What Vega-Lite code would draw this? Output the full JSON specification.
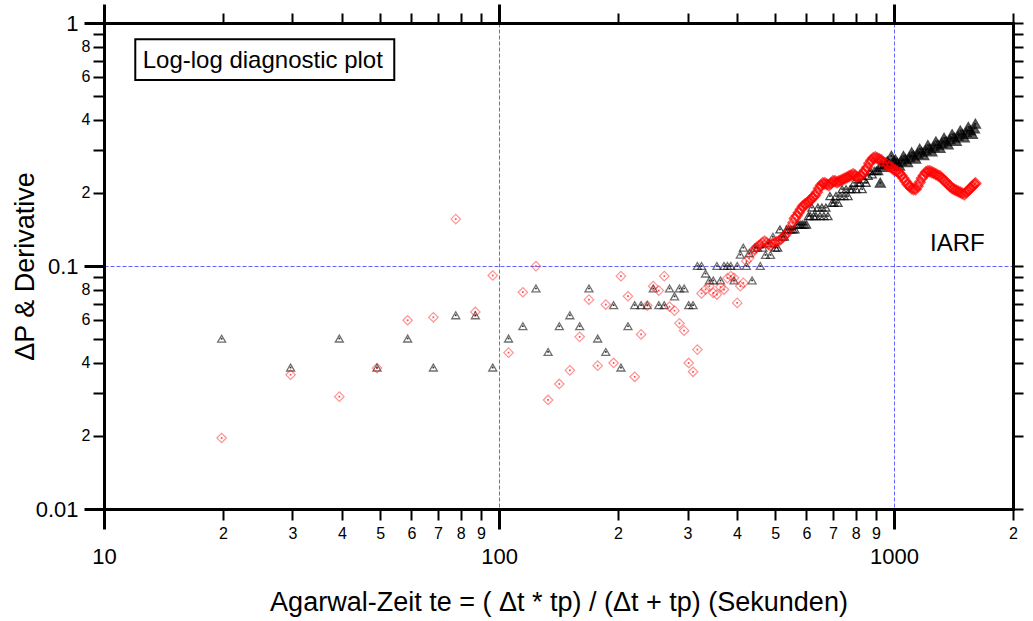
{
"$schema":"https://vega.github.io/schema/vega-lite/v6.json",
"width":909,"height":486,
"autosize":{"type":"none"},
"padding":{"left":104,"top":23,"right":20,"bottom":112},
"background":"white",
"config":{"view":{"stroke":null},"font":"Liberation Sans",
"axis":{"labelFont":"Liberation Sans","titleFont":"Liberation Sans","labelColor":"#000","titleColor":"#000","tickColor":"#000","domainColor":"#000","labelFlush":false,"labelOverlap":false,"labelBound":false,"grid":false,"titleFontWeight":"normal"}},
"datasets":{
"dp":[{"t":19.85,"v":0.0502},{"t":29.67,"v":0.0382},{"t":39.42,"v":0.0503},{"t":49.1,"v":0.0382},{"t":58.7,"v":0.0503},{"t":68.2,"v":0.0382},{"t":77.7,"v":0.0627},{"t":87.1,"v":0.0627},{"t":96.4,"v":0.0382},{"t":105.7,"v":0.0503},{"t":114.9,"v":0.0565},{"t":124.0,"v":0.0808},{"t":133.1,"v":0.0443},{"t":142.1,"v":0.0565},{"t":151.1,"v":0.0627},{"t":160.0,"v":0.0565},{"t":168.9,"v":0.0808},{"t":177.7,"v":0.0503},{"t":186.3,"v":0.0443},{"t":195.0,"v":0.069},{"t":203.5,"v":0.0382},{"t":212.0,"v":0.0565},{"t":220.5,"v":0.069},{"t":228.9,"v":0.069},{"t":237.3,"v":0.069},{"t":245.7,"v":0.0808},{"t":253.8,"v":0.069},{"t":262.0,"v":0.069},{"t":270.1,"v":0.0808},{"t":278.1,"v":0.075},{"t":286.2,"v":0.0808},{"t":294.1,"v":0.0808},{"t":302.1,"v":0.069},{"t":309.9,"v":0.069},{"t":317.7,"v":0.1},{"t":325.5,"v":0.1},{"t":333.2,"v":0.0931},{"t":340.9,"v":0.0872},{"t":348.5,"v":0.0872},{"t":356.0,"v":0.1},{"t":363.6,"v":0.0872},{"t":371.1,"v":0.1},{"t":378.6,"v":0.1},{"t":386.0,"v":0.1},{"t":393.4,"v":0.0872},{"t":400.8,"v":0.1},{"t":408.1,"v":0.1113},{"t":415.4,"v":0.119},{"t":422.7,"v":0.1},{"t":429.9,"v":0.113},{"t":437.1,"v":0.0872},{"t":444.3,"v":0.119},{"t":451.4,"v":0.119},{"t":458.5,"v":0.1},{"t":465.6,"v":0.119},{"t":472.6,"v":0.111},{"t":479.6,"v":0.124},{"t":486.6,"v":0.111},{"t":493.5,"v":0.132},{"t":500.4,"v":0.119},{"t":507.3,"v":0.119},{"t":514.1,"v":0.1414},{"t":520.9,"v":0.132},{"t":527.7,"v":0.132},{"t":534.5,"v":0.1414},{"t":541.2,"v":0.1414},{"t":547.9,"v":0.1414},{"t":554.6,"v":0.1414},{"t":561.2,"v":0.1414},{"t":567.8,"v":0.148},{"t":574.4,"v":0.148},{"t":581.0,"v":0.148},{"t":587.5,"v":0.148},{"t":594.0,"v":0.148},{"t":600.4,"v":0.148},{"t":606.8,"v":0.1605},{"t":613.2,"v":0.1605},{"t":619.6,"v":0.174},{"t":625.9,"v":0.1605},{"t":634.0,"v":0.1605},{"t":641.4,"v":0.174},{"t":649.0,"v":0.1605},{"t":656.6,"v":0.174},{"t":664.3,"v":0.1605},{"t":672.1,"v":0.174},{"t":680.2,"v":0.1605},{"t":688.2,"v":0.194},{"t":696.4,"v":0.182},{"t":704.5,"v":0.182},{"t":712.8,"v":0.194},{"t":721.3,"v":0.182},{"t":729.8,"v":0.194},{"t":738.4,"v":0.207},{"t":747.1,"v":0.194},{"t":755.9,"v":0.207},{"t":764.8,"v":0.194},{"t":773.8,"v":0.207},{"t":783.0,"v":0.207},{"t":792.2,"v":0.22},{"t":801.6,"v":0.207},{"t":811.0,"v":0.22},{"t":820.6,"v":0.22},{"t":830.3,"v":0.207},{"t":840.1,"v":0.227},{"t":850.0,"v":0.22},{"t":860.1,"v":0.235},{"t":870.3,"v":0.246},{"t":880.5,"v":0.238},{"t":890.9,"v":0.246},{"t":901.4,"v":0.246},{"t":912.0,"v":0.246},{"t":922.8,"v":0.22},{"t":928.2,"v":0.262},{"t":939.2,"v":0.255},{"t":950.3,"v":0.262},{"t":961.5,"v":0.27},{"t":972.8,"v":0.262},{"t":984.3,"v":0.284},{"t":995.9,"v":0.27},{"t":1007.7,"v":0.274},{"t":1019.7,"v":0.2661},{"t":1031.8,"v":0.2583},{"t":1044.0,"v":0.2706},{"t":1056.4,"v":0.2836},{"t":1069.0,"v":0.2753},{"t":1081.7,"v":0.2671},{"t":1094.6,"v":0.28},{"t":1107.5,"v":0.2936},{"t":1120.6,"v":0.2848},{"t":1134.0,"v":0.2763},{"t":1147.5,"v":0.2897},{"t":1161.1,"v":0.3037},{"t":1174.9,"v":0.2947},{"t":1188.9,"v":0.2856},{"t":1203.0,"v":0.2996},{"t":1217.3,"v":0.3144},{"t":1231.7,"v":0.3047},{"t":1246.4,"v":0.2953},{"t":1261.2,"v":0.3099},{"t":1276.2,"v":0.3254},{"t":1291.3,"v":0.3152},{"t":1306.7,"v":0.3053},{"t":1322.2,"v":0.3206},{"t":1337.9,"v":0.3368},{"t":1353.8,"v":0.3261},{"t":1369.9,"v":0.3157},{"t":1386.1,"v":0.3317},{"t":1402.6,"v":0.3485},{"t":1419.3,"v":0.3374},{"t":1436.1,"v":0.3264},{"t":1453.2,"v":0.3431},{"t":1470.5,"v":0.3607},{"t":1487.9,"v":0.3489},{"t":1505.6,"v":0.3375},{"t":1523.5,"v":0.3549},{"t":1541.6,"v":0.3734},{"t":1559.9,"v":0.361},{"t":1578.4,"v":0.3489},{"t":1597.2,"v":0.3673},{"t":1606.7,"v":0.3848}],
"der":[{"t":19.85,"v":0.0196},{"t":29.67,"v":0.0357},{"t":39.42,"v":0.029},{"t":49.1,"v":0.038},{"t":58.7,"v":0.0598},{"t":68.2,"v":0.0615},{"t":77.7,"v":0.156},{"t":87.1,"v":0.0647},{"t":96.4,"v":0.0914},{"t":105.7,"v":0.044},{"t":114.9,"v":0.078},{"t":124.0,"v":0.0999},{"t":133.1,"v":0.0281},{"t":142.1,"v":0.0327},{"t":151.1,"v":0.0372},{"t":160.0,"v":0.0511},{"t":168.9,"v":0.0727},{"t":177.7,"v":0.0389},{"t":186.3,"v":0.0694},{"t":195.0,"v":0.0399},{"t":203.5,"v":0.0908},{"t":212.0,"v":0.0751},{"t":220.5,"v":0.035},{"t":228.9,"v":0.0523},{"t":237.3,"v":0.0687},{"t":245.7,"v":0.0826},{"t":253.8,"v":0.0792},{"t":262.0,"v":0.0908},{"t":270.1,"v":0.068},{"t":278.1,"v":0.0655},{"t":286.2,"v":0.0581},{"t":294.1,"v":0.0542},{"t":302.1,"v":0.0399},{"t":309.9,"v":0.0367},{"t":317.7,"v":0.0453},{"t":325.5,"v":0.0771},{"t":333.2,"v":0.0801},{"t":340.9,"v":0.0826},{"t":348.5,"v":0.0775},{"t":356.0,"v":0.0763},{"t":363.6,"v":0.082},{"t":371.1,"v":0.08},{"t":378.6,"v":0.0892},{"t":386.0,"v":0.0909},{"t":393.4,"v":0.0894},{"t":400.8,"v":0.0705},{"t":408.1,"v":0.0826},{"t":415.4,"v":0.0852},{"t":422.7,"v":0.1047},{"t":429.9,"v":0.1078},{"t":437.1,"v":0.1132},{"t":443.2,"v":0.117},{"t":448.4,"v":0.1192},{"t":453.7,"v":0.121},{"t":459.0,"v":0.1226},{"t":464.5,"v":0.125},{"t":470.0,"v":0.1267},{"t":475.5,"v":0.125},{"t":481.1,"v":0.1226},{"t":486.8,"v":0.121},{"t":492.5,"v":0.124},{"t":498.3,"v":0.125},{"t":504.2,"v":0.126},{"t":510.3,"v":0.1267},{"t":516.3,"v":0.1286},{"t":522.4,"v":0.1311},{"t":528.6,"v":0.133},{"t":534.8,"v":0.136},{"t":541.1,"v":0.14},{"t":547.5,"v":0.1455},{"t":554.0,"v":0.151},{"t":560.5,"v":0.157},{"t":567.2,"v":0.161},{"t":573.8,"v":0.166},{"t":580.5,"v":0.171},{"t":587.4,"v":0.176},{"t":594.3,"v":0.1793},{"t":601.4,"v":0.181},{"t":608.5,"v":0.184},{"t":615.6,"v":0.188},{"t":622.9,"v":0.1916},{"t":630.3,"v":0.195},{"t":637.7,"v":0.2011},{"t":645.2,"v":0.2087},{"t":652.8,"v":0.2148},{"t":660.4,"v":0.219},{"t":668.2,"v":0.219},{"t":676.1,"v":0.2168},{"t":684.2,"v":0.2148},{"t":692.3,"v":0.219},{"t":700.4,"v":0.2231},{"t":708.7,"v":0.2231},{"t":717.0,"v":0.221},{"t":725.5,"v":0.2231},{"t":734.1,"v":0.225},{"t":742.7,"v":0.2273},{"t":751.5,"v":0.2295},{"t":760.3,"v":0.2317},{"t":769.3,"v":0.234},{"t":778.4,"v":0.236},{"t":787.6,"v":0.2384},{"t":796.9,"v":0.236},{"t":806.3,"v":0.2317},{"t":815.8,"v":0.2317},{"t":825.4,"v":0.236},{"t":835.2,"v":0.241},{"t":845.1,"v":0.2476},{"t":855.0,"v":0.2547},{"t":865.2,"v":0.2645},{"t":875.4,"v":0.2724},{"t":885.7,"v":0.2777},{"t":896.2,"v":0.2803},{"t":906.7,"v":0.2777},{"t":917.4,"v":0.275},{"t":928.2,"v":0.2724},{"t":939.2,"v":0.2672},{"t":950.3,"v":0.2645},{"t":961.5,"v":0.2597},{"t":972.8,"v":0.257},{"t":984.3,"v":0.2547},{"t":995.9,"v":0.25},{"t":1007.7,"v":0.2476},{"t":1019.7,"v":0.2453},{"t":1031.8,"v":0.241},{"t":1044.0,"v":0.236},{"t":1056.4,"v":0.2295},{"t":1069.0,"v":0.2231},{"t":1081.7,"v":0.2168},{"t":1094.6,"v":0.2128},{"t":1107.5,"v":0.2087},{"t":1120.6,"v":0.2067},{"t":1134.0,"v":0.2067},{"t":1147.5,"v":0.2128},{"t":1161.1,"v":0.221},{"t":1174.9,"v":0.2295},{"t":1188.9,"v":0.236},{"t":1203.0,"v":0.243},{"t":1217.3,"v":0.2453},{"t":1231.7,"v":0.2453},{"t":1246.4,"v":0.243},{"t":1261.2,"v":0.241},{"t":1276.2,"v":0.2384},{"t":1291.3,"v":0.236},{"t":1306.7,"v":0.234},{"t":1322.2,"v":0.2295},{"t":1337.9,"v":0.225},{"t":1353.8,"v":0.221},{"t":1369.9,"v":0.2168},{"t":1386.1,"v":0.2128},{"t":1402.6,"v":0.2087},{"t":1419.3,"v":0.2067},{"t":1436.1,"v":0.2047},{"t":1453.2,"v":0.2028},{"t":1470.5,"v":0.2009},{"t":1487.9,"v":0.199},{"t":1505.6,"v":0.1971},{"t":1523.5,"v":0.2009},{"t":1541.6,"v":0.2047},{"t":1559.9,"v":0.2087},{"t":1578.4,"v":0.2128},{"t":1597.2,"v":0.2168},{"t":1606.7,"v":0.219}],
"notes":[{"kind":"box","t":12.0,"t2":54.3,"v":0.857,"v2":0.5825},{"kind":"text","t":12.53,"v":0.655,"label":"Log-log diagnostic plot"},{"kind":"text","t":1233,"v":0.1156,"label":"IARF"}]
},
"layer":[
{"data":{"name":"dp"},
"mark":{"type":"point","shape":"triangle-up","filled":false,"stroke":"#000"},
"encoding":{
"x":{"field":"t","type":"quantitative","scale":{"type":"log","domain":[10,2000],"nice":false},
"axis":{"orient":"bottom","values":[20,30,40,50,60,70,80,90,200,300,400,500,600,700,800,900,2000],"tickSize":11,"tickWidth":2,"domain":true,"domainWidth":3,"domainCap":"square","labelFontSize":16,"labelPadding":5,"labelExpr":"'' + (datum.value < 100 ? round(datum.value/10) : datum.value < 1000 ? round(datum.value/100) : round(datum.value/1000))","title":null}},
"y":{"field":"v","type":"quantitative","scale":{"type":"log","domain":[0.01,1],"nice":false},
"axis":{"orient":"left","values":[0.02,0.03,0.04,0.05,0.06,0.07,0.08,0.09,0.2,0.3,0.4,0.5,0.6,0.7,0.8,0.9],"tickSize":11,"tickWidth":2,"domain":true,"domainWidth":3,"domainCap":"square","labelFontSize":16,"labelPadding":3,"labelExpr":"(datum.value < 0.1 ? round(datum.value*100) : round(datum.value*10)) % 2 == 0 ? '' + (datum.value < 0.1 ? round(datum.value*100) : round(datum.value*10)) : ''","title":null}},
"size":{"condition":{"test":"datum.t > 920","value":85},"value":64},
"fill":{"condition":{"test":"datum.t > 920","value":"#000"},"value":"transparent"},
"fillOpacity":{"value":0.85},
"strokeWidth":{"condition":{"test":"datum.t > 900","value":1.8},"value":1.3},
"strokeOpacity":{"condition":{"test":"datum.t > 500","value":1},"value":0.8}}},
{"data":{"name":"der"},
"mark":{"type":"point","shape":"diamond","size":90,"filled":false,"stroke":"#ff0000"},
"encoding":{
"x":{"field":"t","type":"quantitative","scale":{"type":"log","domain":[10,2000],"nice":false},
"axis":{"orient":"bottom","values":[10,100,1000],"tickSize":20,"tickWidth":3,"domain":false,"labelFontSize":22,"labelPadding":17,"labelExpr":"'' + datum.value","title":"Agarwal-Zeit te = ( Δt * tp) / (Δt + tp) (Sekunden)","titleFontSize":27,"titleY":101.7,"titleBaseline":"alphabetic"}},
"y":{"field":"v","type":"quantitative","scale":{"type":"log","domain":[0.01,1],"nice":false},
"axis":{"orient":"left","values":[0.01,0.1,1],"tickSize":20,"tickWidth":3,"domain":false,"labelFontSize":22,"labelPadding":6,"labelExpr":"datum.value >= 0.99 ? '1' : datum.value >= 0.099 ? '0.1' : '0.01'","title":"ΔP & Derivative","titleFontSize":27,"titleX":-71,"titleBaseline":"alphabetic"}},
"strokeWidth":{"condition":[{"test":"datum.t > 560","value":2.4},{"test":"datum.t > 440","value":1.7}],"value":1.2},
"strokeOpacity":{"condition":[{"test":"datum.t > 560","value":0.95},{"test":"datum.t > 440","value":0.8}],"value":0.6}}},
{"data":{"name":"dp"},
"mark":{"type":"point","shape":"square","size":3,"filled":true,"color":"#000","opacity":0.8},
"encoding":{
"x":{"field":"t","type":"quantitative","scale":{"type":"log","domain":[10,2000],"nice":false},
"axis":{"orient":"top","values":[20,30,40,50,60,70,80,90,200,300,400,500,600,700,800,900,2000],"tickSize":10,"tickWidth":2,"domain":true,"domainWidth":3,"domainCap":"square","labels":false,"title":null}},
"y":{"field":"v","type":"quantitative","scale":{"type":"log","domain":[0.01,1],"nice":false},
"axis":{"orient":"right","values":[0.01,0.02,0.03,0.04,0.05,0.06,0.07,0.08,0.09,0.1,0.2,0.3,0.4,0.5,0.6,0.7,0.8,0.9,1],"tickSize":10,"tickWidth":2,"domain":true,"domainWidth":3,"domainCap":"square","labels":false,"title":null}}}},
{"data":{"name":"der"},
"mark":{"type":"point","shape":"square","size":3,"filled":true,"color":"#ff0000","opacity":0.7},
"encoding":{
"x":{"field":"t","type":"quantitative","scale":{"type":"log","domain":[10,2000],"nice":false},
"axis":{"orient":"top","values":[10,100,1000],"tickSize":19,"tickWidth":3,"domain":false,"labels":false,"title":null}},
"y":{"field":"v","type":"quantitative","scale":{"type":"log","domain":[0.01,1],"nice":false},
"axis":{"orient":"left","values":[0.1],"grid":true,"gridColor":"#6464ff","gridDash":[4,2],"gridWidth":1,"domain":false,"ticks":false,"labels":false,"title":null}}}},
{"data":{"name":"notes"},
"transform":[{"filter":"datum.kind == 'box'"}],
"mark":{"type":"rect","fill":"white","stroke":"#000","strokeWidth":2},
"encoding":{
"x":{"field":"t","type":"quantitative","scale":{"type":"log","domain":[10,2000],"nice":false},
"axis":{"orient":"bottom","values":[100,1000],"grid":true,"gridColor":"#6464ff","gridDash":[4,2],"gridWidth":1,"domain":false,"ticks":false,"labels":false,"title":null}},
"x2":{"field":"t2"},
"y":{"field":"v","type":"quantitative","scale":{"type":"log","domain":[0.01,1],"nice":false},"axis":null},
"y2":{"field":"v2"}}},
{"data":{"name":"notes"},
"transform":[{"filter":"datum.kind == 'text'"}],
"mark":{"type":"text","align":"left","baseline":"alphabetic","fontSize":24,"font":"Liberation Sans","color":"#000"},
"encoding":{
"x":{"field":"t","type":"quantitative","scale":{"type":"log","domain":[10,2000],"nice":false},"axis":null},
"y":{"field":"v","type":"quantitative","scale":{"type":"log","domain":[0.01,1],"nice":false},"axis":null},
"text":{"field":"label"}}}
],
"resolve":{"axis":{"x":"independent","y":"independent"}}
}
